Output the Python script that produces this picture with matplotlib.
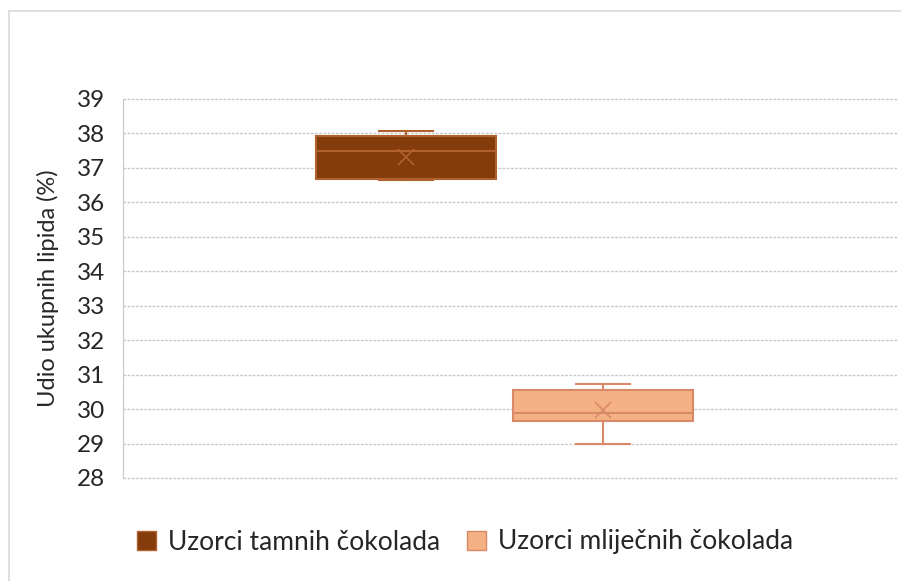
import matplotlib.pyplot as plt
from matplotlib.patches import Patch
from matplotlib.lines import Line2D

plt.rcParams['font.family'] = ['Lato', 'DejaVu Sans']

# values (min, q1, median, q3, max, mean)
series = ['Uzorci tamnih čokolada', 'Uzorci mliječnih čokolada']
mins = [36.65, 28.99]
q1s = [36.67, 29.66]
medians = [37.50, 29.90]
q3s = [37.93, 30.55]
maxs = [38.08, 30.72]
means = [37.33, 29.98]
fills = ['#843C0C', '#F4B183']
edges = ['#B0612E', '#D9896A']

fig = plt.figure(figsize=(9.01, 5.81), dpi=100)
ax = fig.add_axes([123 / 901, 103 / 581, 775 / 901, 379 / 581])

stats = []
for i in range(len(series)):
    stats.append(dict(whislo=mins[i], q1=q1s[i], med=medians[i], q3=q3s[i],
                      whishi=maxs[i], mean=means[i], label=series[i]))

positions = [1, 2]
for i, st in enumerate(stats):
    ax.bxp([st], positions=[positions[i]], widths=0.914, patch_artist=True,
           showmeans=True, showfliers=False,
           boxprops=dict(facecolor=fills[i], edgecolor=edges[i], linewidth=1.5),
           medianprops=dict(color=edges[i], linewidth=1.5),
           whiskerprops=dict(color=edges[i], linewidth=1.5),
           capprops=dict(color=edges[i], linewidth=1.5),
           capwidths=0.27,
           meanprops=dict(marker='x', markeredgecolor=edges[i], markersize=11,
                          markeredgewidth=1.2))

ax.set_xlim(-0.437, 3.497)
ax.set_ylim(28, 39)
ax.set_yticks(range(28, 40))
ax.set_xticks([])
ax.yaxis.grid(True, color='#C8C8C8', linestyle=(0, (2, 1)), linewidth=1)
for gl in ax.get_ygridlines():
    gl.set_clip_on(False)
ax.set_axisbelow(True)
for s in ['top', 'right', 'bottom']:
    ax.spines[s].set_visible(False)
ax.spines['left'].set_color('#C8C8C8')
ax.spines['left'].set_linestyle((0, (2, 1)))
ax.tick_params(axis='y', length=0, labelsize=17.5, pad=13, labelcolor='#262626')
ax.set_ylabel('Udio ukupnih lipida (%)', fontsize=17, color='#262626', labelpad=13)

handles = [Patch(facecolor=fills[i], edgecolor=edges[i]) for i in range(len(series))]
fig.legend(handles, series, loc='center', bbox_to_anchor=(465 / 901, 1 - 542 / 581),
           ncol=2, frameon=False, fontsize=19, handlelength=0.75, handleheight=0.75,
           handletextpad=0.45, columnspacing=1.0, labelcolor='#262626')

# outer chart border
fig.add_artist(Line2D([9 / 901, 9 / 901], [0, 1 - 11 / 581], transform=fig.transFigure,
                      color='#D9D9D9', linewidth=1.2))
fig.add_artist(Line2D([9 / 901, 1], [1 - 11 / 581, 1 - 11 / 581], transform=fig.transFigure,
                      color='#D9D9D9', linewidth=1.2))

fig.savefig('out.png', dpi=100, facecolor='white')
